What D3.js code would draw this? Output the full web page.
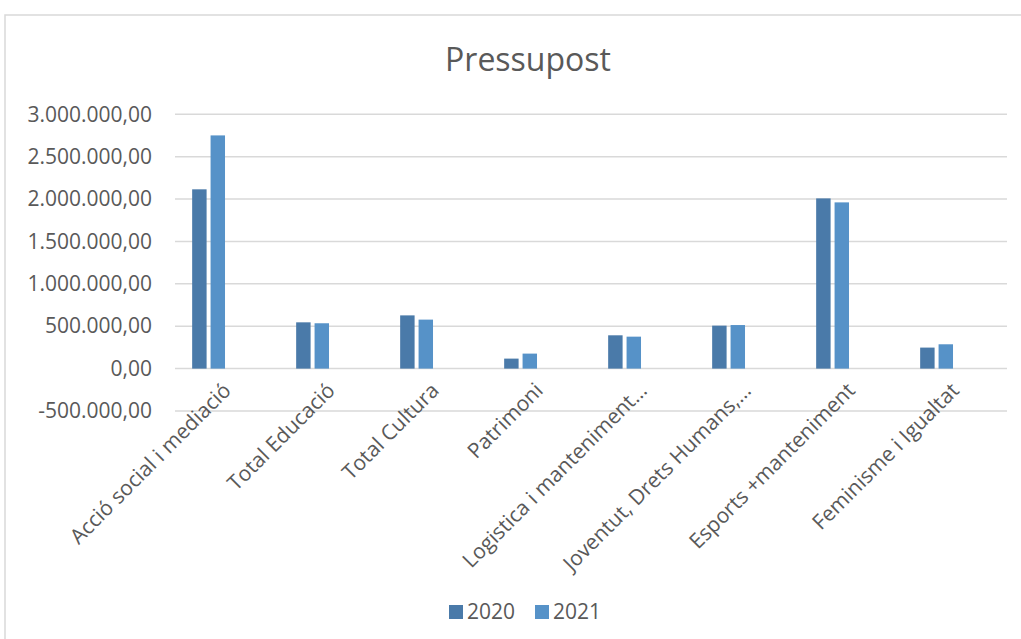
<!DOCTYPE html>
<html>
<head>
<meta charset="utf-8">
<script src="https://cdn.jsdelivr.net/npm/d3@7"></script>
<style>
  body { margin: 0; background: #fff; }
  svg text { font-family: "Open Sans", sans-serif; fill: #595959; }
</style>
</head>
<body>
<svg id="chart" width="1021" height="639"></svg>
<script>
// categories and values
const categories = [
  "Acció social i mediació",
  "Total Educació",
  "Total Cultura",
  "Patrimoni",
  "Logistica i manteniment…",
  "Joventut, Drets Humans,…",
  "Esports +manteniment",
  "Feminisme i Igualtat"
];
const seriesKeys = ["2020", "2021"];
const values2020 = [2115000, 546000, 628000, 118000, 393000, 507000, 2008000, 248000];
const values2021 = [2751000, 535000, 578000, 177000, 377000, 514000, 1961000, 287000];
const yTicks = [-500000, 0, 500000, 1000000, 1500000, 2000000, 2500000, 3000000];
const colors = ["#4A7AA9", "#5692C8"];

const rows = categories.map((c, i) => ({ cat: c, "2020": values2020[i], "2021": values2021[i] }));

const svg = d3.select("#chart");

// chart frame
svg.append("rect")
  .attr("x", 5).attr("y", 15)
  .attr("width", 1030).attr("height", 640)
  .attr("fill", "#fff")
  .attr("stroke", "#d9d9d9")
  .attr("stroke-width", 1.5);

const plot = { left: 175, right: 1007, top: 114.3, bottom: 411 };

const x0 = d3.scaleBand()
  .domain(categories)
  .range([plot.left, plot.right])
  .paddingInner(0.33)
  .paddingOuter(0.165);

// the cluster leaves room for two empty series slots, as the original does
const x1 = d3.scaleBand()
  .domain([...seriesKeys, "empty1", "empty2"])
  .range([0, x0.bandwidth()])
  .paddingInner(0.216);

const y = d3.scaleLinear()
  .domain([-500000, 3000000])
  .range([plot.bottom, plot.top]);

const locale = d3.formatLocale({ decimal: ",", thousands: ".", grouping: [3], currency: ["", "€"], minus: "-" });
const fmt = locale.format(",.2f");

// gridlines
svg.append("g")
  .selectAll("line")
  .data(yTicks)
  .join("line")
  .attr("x1", plot.left).attr("x2", plot.right)
  .attr("y1", d => y(d)).attr("y2", d => y(d))
  .attr("stroke", "#d9d9d9")
  .attr("stroke-width", 1.5);

// y axis labels
const yAxis = svg.append("g")
  .attr("transform", `translate(${plot.left - 23},0)`)
  .call(d3.axisLeft(y).tickValues(yTicks).tickFormat(fmt).tickSize(0).tickPadding(0));
yAxis.select(".domain").remove();
yAxis.selectAll("text")
  .style("font-size", "21px")
  .attr("fill", "#595959");

// bars
svg.append("g")
  .selectAll("g")
  .data(rows)
  .join("g")
  .attr("transform", d => `translate(${x0(d.cat)},0)`)
  .selectAll("rect")
  .data(d => seriesKeys.map((k, i) => ({ key: k, value: d[k], i })))
  .join("rect")
  .attr("x", d => x1(d.key))
  .attr("width", x1.bandwidth())
  .attr("y", d => y(Math.max(0, d.value)))
  .attr("height", d => Math.abs(y(d.value) - y(0)))
  .attr("fill", d => colors[d.i]);

// x axis labels, rotated
const xAxis = svg.append("g")
  .attr("transform", `translate(0,${y(0)})`)
  .call(d3.axisBottom(x0).tickSize(0).tickPadding(0));
xAxis.select(".domain").remove();
xAxis.selectAll(".tick text")
  .style("font-size", "21px")
  .attr("fill", "#595959")
  .attr("text-anchor", "end")
  .attr("dy", "0.35em")
  .attr("transform", "translate(0,18) rotate(-45)");

// title
svg.append("text")
  .attr("x", 528).attr("y", 71)
  .attr("text-anchor", "middle")
  .style("font-size", "32px")
  .text("Pressupost");

// legend
const legend = svg.append("g")
  .attr("transform", "translate(449,605)")
  .selectAll("g")
  .data(seriesKeys)
  .join("g")
  .attr("transform", (d, i) => `translate(${i * 86},0)`);
legend.append("rect")
  .attr("width", 14).attr("height", 14)
  .attr("fill", (d, i) => colors[i]);
legend.append("text")
  .attr("x", 18).attr("y", 14)
  .style("font-size", "21px")
  .text(d => d);
</script>
</body>
</html>
